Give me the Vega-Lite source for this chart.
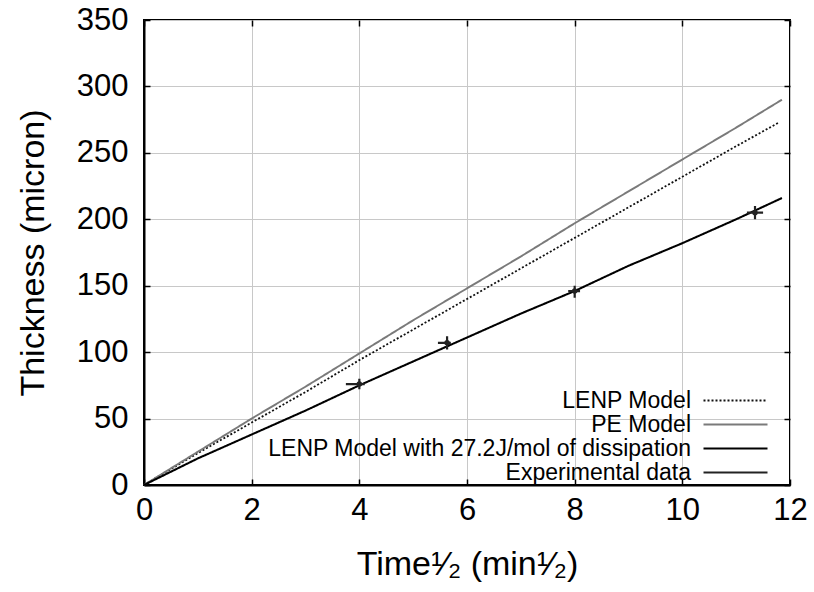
{
  "$schema": "https://vega.github.io/schema/vega-lite/v6.json",
  "width": 646,
  "height": 465,
  "autosize": {"type": "none"},
  "padding": {"left": 144, "top": 20, "right": 24, "bottom": 107},
  "background": "white",
  "config": {
    "view": {"stroke": "black", "strokeWidth": 2},
    "font": "Liberation Sans",
    "axis": {
      "gridColor": "#c8c8c8",
      "gridWidth": 1,
      "domainColor": "black",
      "domainWidth": 2,
      "tickColor": "black",
      "tickWidth": 1.5,
      "tickSize": -6,
      "labelFontSize": 31,
      "labelColor": "black",
      "labelFlush": false,
      "titleFontSize": 34,
      "titleFontWeight": "normal",
      "titleColor": "black"
    }
  },
  "resolve": {"axis": {"x": "independent", "y": "independent"}},
  "datasets": {
    "models": [
      {"series": "LENP Model", "t": 0, "thickness": 0},
      {"series": "LENP Model", "t": 1, "thickness": 24},
      {"series": "LENP Model", "t": 2, "thickness": 47},
      {"series": "LENP Model", "t": 3, "thickness": 70},
      {"series": "LENP Model", "t": 4, "thickness": 94},
      {"series": "LENP Model", "t": 5, "thickness": 117},
      {"series": "LENP Model", "t": 6, "thickness": 140},
      {"series": "LENP Model", "t": 7, "thickness": 163},
      {"series": "LENP Model", "t": 8, "thickness": 186},
      {"series": "LENP Model", "t": 9, "thickness": 209},
      {"series": "LENP Model", "t": 10, "thickness": 232},
      {"series": "LENP Model", "t": 11, "thickness": 255},
      {"series": "LENP Model", "t": 11.8, "thickness": 273},
      {"series": "PE Model", "t": 0, "thickness": 0},
      {"series": "PE Model", "t": 1, "thickness": 25},
      {"series": "PE Model", "t": 2, "thickness": 50},
      {"series": "PE Model", "t": 3, "thickness": 74},
      {"series": "PE Model", "t": 4, "thickness": 99},
      {"series": "PE Model", "t": 5, "thickness": 124},
      {"series": "PE Model", "t": 6, "thickness": 148},
      {"series": "PE Model", "t": 7, "thickness": 172},
      {"series": "PE Model", "t": 8, "thickness": 197},
      {"series": "PE Model", "t": 9, "thickness": 221},
      {"series": "PE Model", "t": 10, "thickness": 245},
      {"series": "PE Model", "t": 11, "thickness": 269},
      {"series": "PE Model", "t": 11.85, "thickness": 290},
      {"series": "LENP Model with 27.2J/mol of dissipation", "t": 0, "thickness": 0},
      {"series": "LENP Model with 27.2J/mol of dissipation", "t": 1, "thickness": 20},
      {"series": "LENP Model with 27.2J/mol of dissipation", "t": 2, "thickness": 38},
      {"series": "LENP Model with 27.2J/mol of dissipation", "t": 3, "thickness": 56},
      {"series": "LENP Model with 27.2J/mol of dissipation", "t": 4, "thickness": 75},
      {"series": "LENP Model with 27.2J/mol of dissipation", "t": 5, "thickness": 93},
      {"series": "LENP Model with 27.2J/mol of dissipation", "t": 6, "thickness": 111},
      {"series": "LENP Model with 27.2J/mol of dissipation", "t": 7, "thickness": 129},
      {"series": "LENP Model with 27.2J/mol of dissipation", "t": 8, "thickness": 146},
      {"series": "LENP Model with 27.2J/mol of dissipation", "t": 9, "thickness": 165},
      {"series": "LENP Model with 27.2J/mol of dissipation", "t": 10, "thickness": 182},
      {"series": "LENP Model with 27.2J/mol of dissipation", "t": 11, "thickness": 200},
      {"series": "LENP Model with 27.2J/mol of dissipation", "t": 11.85, "thickness": 216}
    ],
    "exp": [
      {"series": "Experimental data", "t": 4.0, "tlo": 3.75, "thi": 4.1, "thickness": 76, "ylo": 72, "yhi": 80},
      {"series": "Experimental data", "t": 5.63, "tlo": 5.46, "thi": 5.7, "thickness": 107, "ylo": 102, "yhi": 112},
      {"series": "Experimental data", "t": 8.0, "tlo": 7.88, "thi": 8.1, "thickness": 146, "ylo": 141, "yhi": 150},
      {"series": "Experimental data", "t": 11.35, "tlo": 11.2, "thi": 11.5, "thickness": 205, "ylo": 200, "yhi": 210}
    ]
  },
  "encoding": {
    "color": {
      "field": "series",
      "type": "nominal",
      "scale": {
        "domain": ["LENP Model", "PE Model", "LENP Model with 27.2J/mol of dissipation", "Experimental data"],
        "range": ["#111111", "#7a7a7a", "#000000", "#222222"]
      },
      "legend": {
        "orient": "none",
        "legendX": 580,
        "legendY": 369,
        "title": null,
        "labelAlign": "right",
        "labelOffset": -56,
        "labelFontSize": 23,
        "labelColor": "black",
        "labelLimit": 0,
        "symbolType": "M-3.2,0H3.2",
        "symbolSize": 400,
        "rowPadding": -1
      }
    },
    "strokeDash": {
      "field": "series",
      "type": "nominal",
      "scale": {
        "domain": ["LENP Model", "PE Model", "LENP Model with 27.2J/mol of dissipation", "Experimental data"],
        "range": [[2, 2], [1, 0], [1, 0], [1, 0]]
      }
    },
    "strokeWidth": {
      "field": "series",
      "type": "nominal",
      "scale": {
        "domain": ["LENP Model", "PE Model", "LENP Model with 27.2J/mol of dissipation", "Experimental data"],
        "range": [1.8, 2.2, 2.6, 1.3]
      }
    }
  },
  "layer": [
    {
      "data": {"name": "models"},
      "mark": {"type": "line"},
      "encoding": {
        "x": {
          "field": "t",
          "type": "quantitative",
          "scale": {"domain": [0, 12], "nice": false},
          "axis": {"values": [0, 2, 4, 6, 8, 10, 12], "grid": true, "labelPadding": 16, "title": "Time¹⁄₂ (min¹⁄₂)", "titlePadding": 22}
        },
        "y": {
          "field": "thickness",
          "type": "quantitative",
          "scale": {"domain": [0, 350], "nice": false},
          "axis": {"values": [0, 50, 100, 150, 200, 250, 300, 350], "grid": true, "labelPadding": 22, "title": "Thickness (micron)", "titlePadding": 26}
        }
      }
    },
    {
      "data": {"name": "exp"},
      "mark": {"type": "rule"},
      "encoding": {
        "x": {"field": "tlo", "type": "quantitative", "axis": null},
        "x2": {"field": "thi"},
        "y": {"field": "thickness", "type": "quantitative", "axis": null}
      }
    },
    {
      "data": {"name": "exp"},
      "mark": {"type": "rule"},
      "encoding": {
        "x": {"field": "t", "type": "quantitative", "axis": null},
        "y": {"field": "ylo", "type": "quantitative", "axis": null},
        "y2": {"field": "yhi"}
      }
    },
    {
      "data": {"name": "exp"},
      "mark": {"type": "point", "filled": true, "size": 30, "opacity": 1},
      "encoding": {
        "x": {
          "field": "t",
          "type": "quantitative",
          "axis": {"orient": "top", "values": [0, 2, 4, 6, 8, 10, 12], "labels": false, "domain": false, "grid": false, "title": null}
        },
        "y": {
          "field": "thickness",
          "type": "quantitative",
          "axis": {"orient": "right", "values": [0, 50, 100, 150, 200, 250, 300, 350], "labels": false, "domain": false, "grid": false, "title": null}
        },
        "strokeDash": null,
        "strokeWidth": null
      }
    }
  ]
}
